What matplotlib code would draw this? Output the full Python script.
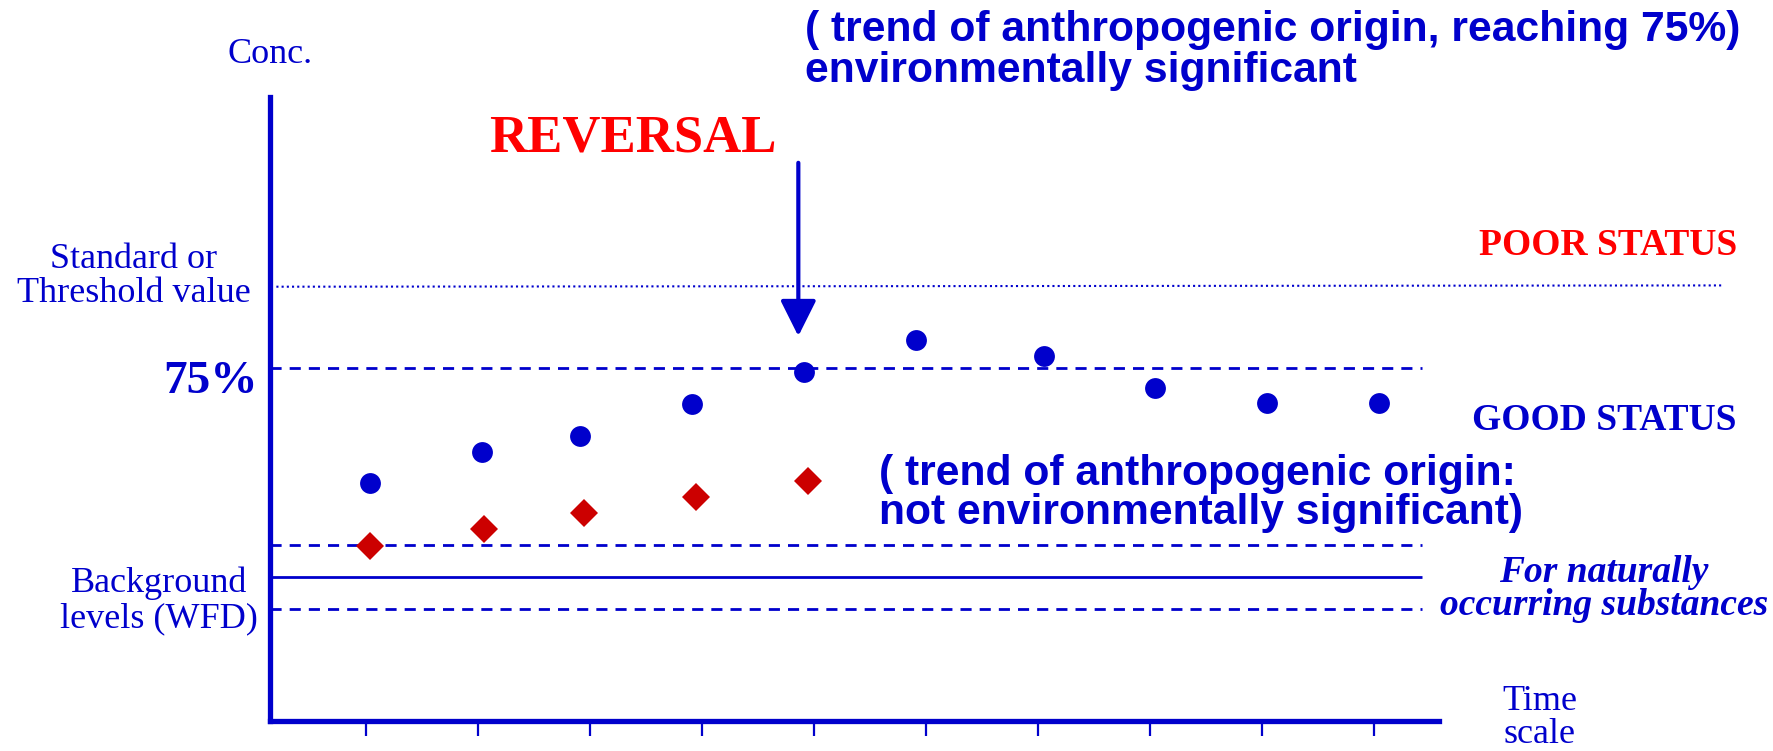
import numpy as np
import matplotlib.pyplot as plt

# time steps (ticks) and the two series, conc. in % of the standard above the lower background band
time_ticks = [1, 2, 3, 4, 5, 6, 7, 8, 9, 10]
sig_time = [1.04, 2.04, 2.91, 3.91, 4.91, 5.91, 7.05, 8.04, 9.04, 10.04]
sig_conc = [39.2, 48.9, 53.9, 63.9, 73.8, 83.8, 78.8, 68.8, 64.2, 64.2]
nonsig_time = [1.04, 2.05, 2.95, 3.95, 4.95]
nonsig_conc = [19.7, 24.8, 29.8, 34.8, 39.8]

threshold = 100
pct75 = 75
background = 10
bg_upper = 20
bg_lower = 0
reversal_time = 4.86
arrow_from, arrow_to = 139, 85

BLUE = '#0000cc'
DARKRED = '#cc0000'
RED = '#ff0000'
SERIF = 'Liberation Serif'
SANS = 'Liberation Sans'

W, H = 1774, 751
fig = plt.figure(figsize=(W / 100, H / 100), dpi=100)
ax = fig.add_axes([270 / W, (H - 721) / H, (1439 - 270) / W, (721 - 97) / H])
ax.set_xlim(0.143, 10.58)
ax.set_ylim(-34.9, 159.5)

for s in ['top', 'right']:
    ax.spines[s].set_visible(False)
for s in ['left', 'bottom']:
    ax.spines[s].set_color(BLUE)
    ax.spines[s].set_linewidth(3.8)
ax.set_xticks(time_ticks)
ax.set_xticklabels([])
ax.set_yticks([])
ax.tick_params(axis='x', direction='out', length=11, width=1.6, color=BLUE)

line_end = 10.43
dash = dict(color=BLUE, lw=2.0, linestyle=(0, (4, 2.9)))
ax.hlines(pct75, 0.143, line_end, **dash)
ax.hlines(bg_upper, 0.143, line_end, **dash)
ax.hlines(bg_lower, 0.143, line_end, **dash)
ax.hlines(background, 0.143, line_end, color=BLUE, lw=2.0)
ax.plot([0.2, 13.11], [threshold + 0.4, threshold + 0.8], color=BLUE, lw=1.5,
        linestyle=(0, (1, 1.5)), clip_on=False)

ax.plot(sig_time, sig_conc, 'o', color=BLUE, ms=15, mew=0)
ax.plot(nonsig_time, nonsig_conc, 'D', color=DARKRED, ms=14.5, mew=0)

ax.annotate('', xy=(reversal_time, arrow_to), xytext=(reversal_time, arrow_from),
            arrowprops=dict(arrowstyle='-|>,head_width=0.5,head_length=1.0',
                            mutation_scale=22, lw=3, color=BLUE,
                            shrinkA=0, shrinkB=0))


def label(x, y, s, **kw):
    fig.text(x / W, 1 - y / H, s, va='baseline', color=kw.pop('color', BLUE), **kw)


label(270, 63, 'Conc.', ha='center', family=SERIF, size=26)
label(805, 41, '( trend of anthropogenic origin, reaching 75%)', ha='left', family=SANS, size=30.7, weight='bold')
label(805, 82, 'environmentally significant', ha='left', family=SANS, size=30.7, weight='bold')
label(633, 152, 'REVERSAL', ha='center', family=SERIF, size=38, weight='bold', color=RED)
label(134, 268, 'Standard or', ha='center', family=SERIF, size=26)
label(134, 302, 'Threshold value', ha='center', family=SERIF, size=26)
label(1737, 255, 'POOR STATUS', ha='right', family=SERIF, size=27, weight='bold', color=RED)
label(258, 393, '75%', ha='right', family=SERIF, size=34, weight='bold')
label(1737, 430, 'GOOD STATUS', ha='right', family=SERIF, size=27, weight='bold')
label(879, 485, '( trend of anthropogenic origin:', ha='left', family=SANS, size=30.7, weight='bold')
label(879, 524, 'not environmentally significant)', ha='left', family=SANS, size=30.7, weight='bold')
label(159, 592, 'Background', ha='center', family=SERIF, size=26)
label(159, 627, 'levels (WFD)', ha='center', family=SERIF, size=26)
label(1604, 582, 'For naturally', ha='center', family=SERIF, size=27, weight='bold', style='italic')
label(1604, 615, 'occurring substances', ha='center', family=SERIF, size=27, weight='bold', style='italic')
label(1540, 710, 'Time', ha='center', family=SERIF, size=26)
label(1540, 743, 'scale', ha='center', family=SERIF, size=26)

fig.savefig('out.png', dpi=100)
